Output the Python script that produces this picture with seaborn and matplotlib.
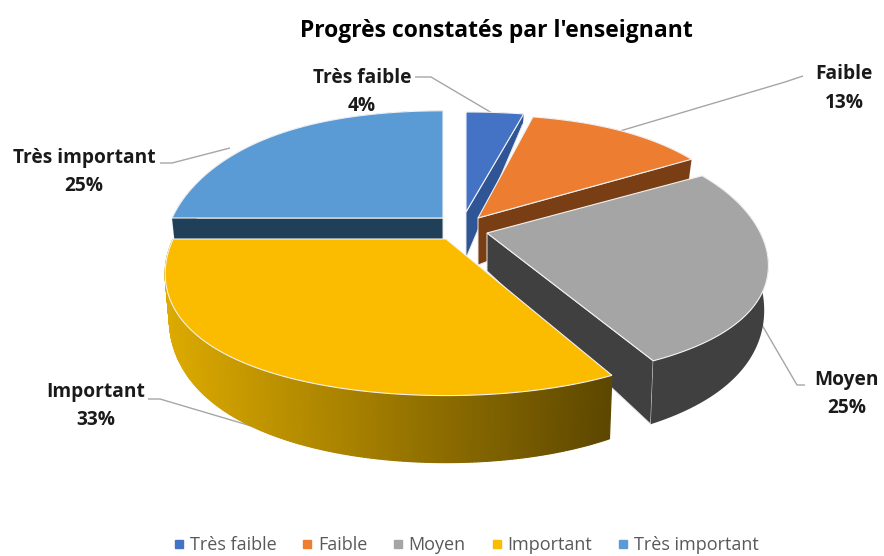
import numpy as np
import matplotlib
matplotlib.use("Agg")
import matplotlib.pyplot as plt
from matplotlib.colors import to_rgb
from matplotlib.lines import Line2D
from matplotlib.patches import Polygon
import seaborn as sns

title = "Progrès constatés par l'enseignant"
categories = ["Très faible", "Faible", "Moyen", "Important", "Très important"]
values = [4, 13, 25, 33, 25]
labels_pct = ["4%", "13%", "25%", "33%", "25%"]

top_colors = ["#4472c4", "#ed7d31", "#a5a5a5", "#fbbc00", "#5b9bd5"]
wall_colors = ["#2f5597", "#7a3e14", "#404040", "#604a00", "#203f58"]
apexes = [(466, 212), (478, 218), (487, 233), (446, 239), (443, 218)]
x_scale = [1.03, 0.98, 0.987, 0.985, 0.978]
y_scale = [0.97, 1.0, 0.975, 1.04, 1.04]
apex_depth = [46, 47, 38, 38, 38]
label_pos = [(362, 92), (844, 88.5), (847, 394), (96, 406), (84, 172)]
leaders = [
    [(415, 77), (431, 77), (492, 113)],
    [(803, 76), (785, 82), (620, 131)],
    [(805, 385), (797, 385), (762, 325)],
    [(148, 399), (160, 399), (285, 436)],
    [(160, 163), (172, 163), (230, 148)],
]

R, PERSP = 277, 0.237

sns.set_theme(style="white")
plt.rcParams["font.family"] = ["Open Sans", "DejaVu Sans"]

fig = plt.figure(figsize=(8.84, 5.56), dpi=100)
ax = fig.add_axes([0, 0, 1, 1])
ax.set_xlim(0, 884)
ax.set_ylim(556, 0)
ax.axis("off")


def project(i, theta, r=1.0, z=0.0):
    """Map a point on the pie disc (clockwise angle from 12 o'clock) to the picture."""
    apex = apexes[i]
    c, sn = np.cos(theta) * r, np.sin(theta)
    s = 1 / (1 + PERSP * c)
    x = R * r * sn * s * (1 - 0.015 * z) * x_scale[i]
    flat = 0.54 - 0.0736 * (c + 0.876) - 0.0306 * (c + 0.876) * (c - 0.482)
    y = -flat * R * c * y_scale[i] + z * (38 - 29 * c)
    return apex[0] + x, apex[1] + y


edges = np.cumsum([0] + values) / sum(values) * 2 * np.pi
order = [4, 0, 1, 2, 3]   # back to front
for i in order:
    a0, a1 = edges[i], edges[i + 1]
    ap = apexes[i]
    th = np.linspace(a0, a1, 200)
    # radial wall facing the viewer
    if i != 3:
        wall_angle = a0 if i == 4 else a1
        e = project(i, wall_angle)
        eb = project(i, wall_angle, z=1)
        ab = (ap[0], ap[1] + apex_depth[i])
        ax.add_patch(Polygon([ap, e, eb, ab], closed=True, fc=wall_colors[i],
                             ec="#e8e8e8", lw=0.7, zorder=2))
    # outer wall
    tx, ty = project(i, th)
    bx, by = project(i, th, z=1)
    if i == 3:
        left, right = np.array(to_rgb("#dcaa00")), np.array(to_rgb("#5e4800"))
        for j in range(len(th) - 1):
            f = np.clip((tx[j] - 165) / (608 - 165), 0, 1)
            col = left + (right - left) * f
            ax.add_patch(Polygon([(tx[j], ty[j]), (tx[j + 1], ty[j + 1]),
                                  (bx[j + 1], by[j + 1]), (bx[j], by[j])],
                                 closed=True, fc=col, ec=col, lw=0.9, zorder=2))
    else:
        ax.add_patch(Polygon(np.r_[np.c_[tx, ty], np.c_[bx, by][::-1]], closed=True,
                             fc=wall_colors[i], ec="none", zorder=2))
    # top face
    ax.add_patch(Polygon(np.r_[[ap], np.c_[tx, ty]], closed=True, fc=top_colors[i],
                         ec="#f2f2f2", lw=0.8, zorder=2))

for pts in leaders:
    xs, ys = zip(*pts)
    ax.plot(xs, ys, color="#a6a6a6", lw=1.0, zorder=1, solid_capstyle="butt")

for (x, y), cat, pct in zip(label_pos, categories, labels_pct):
    ax.text(x, y, f"{cat}\n{pct}", ha="center", va="center", fontsize=13.8,
            fontweight="bold", color="#1a1a1a", linespacing=1.55, zorder=4)

ax.text(496, 31, title, ha="center", va="center", fontsize=16.5,
        fontweight="bold", color="black")

handles = [Line2D([], [], marker="s", ls="none", ms=5.5, color=c) for c in top_colors]
ax.legend(handles, categories, ncol=5, loc="lower center", bbox_to_anchor=(0.527, -0.02),
          frameon=False, fontsize=13, labelcolor="#595959", handlelength=0.6,
          handletextpad=0.3, columnspacing=1.4, borderpad=0.2)

fig.savefig("out.png", dpi=100)
